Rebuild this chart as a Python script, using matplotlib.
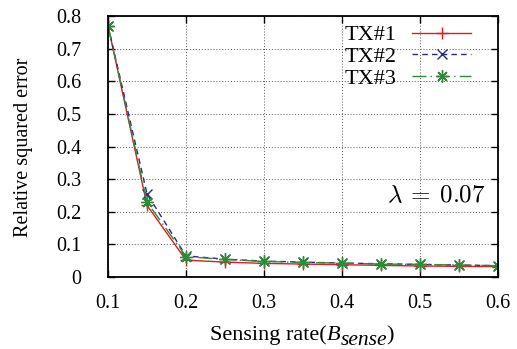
import matplotlib.pyplot as plt

plt.rcParams["font.family"] = ["Liberation Serif", "DejaVu Serif"]
plt.rcParams["mathtext.fontset"] = "stix"

# данные
rate = [0.1, 0.15, 0.2, 0.25, 0.3, 0.35, 0.4, 0.45, 0.5, 0.55, 0.6]
tx1 = [0.770, 0.220, 0.052, 0.046, 0.042, 0.040, 0.038, 0.036, 0.034, 0.033, 0.032]
tx2 = [0.770, 0.255, 0.065, 0.055, 0.049, 0.046, 0.043, 0.041, 0.039, 0.037, 0.035]
tx3 = [0.770, 0.230, 0.063, 0.054, 0.048, 0.045, 0.043, 0.040, 0.039, 0.037, 0.035]
labels = ["TX#1", "TX#2", "TX#3"]

fig = plt.figure(figsize=(5.17, 3.49), dpi=100)
ax = fig.add_axes([0.209, 0.206, 0.754, 0.748])

ax.plot(rate, tx1, color="#e41a1c", ls="-", lw=1.0, marker="+", ms=9, mew=1.0,
        label=labels[0])
ax.plot(rate, tx2, color="#2a2a80", ls=(0, (4, 3)), lw=1.0, marker="x", ms=7,
        mew=1.0, label=labels[1])
ax.plot(rate, tx3, color="#2e8b3a", ls=(0, (10, 3, 1, 3)), lw=1.0,
        marker=(8, 2, 0), ms=9, mew=1.0, label=labels[2])

ax.set_xlim(0.1, 0.6)
ax.set_ylim(0, 0.8)
ax.set_xticks([0.1, 0.2, 0.3, 0.4, 0.5, 0.6])
ax.set_yticks([i / 10 for i in range(9)])
ax.set_yticklabels(["0"] + [f"{i / 10:.1f}" for i in range(1, 9)])
ax.tick_params(direction="in", top=True, right=True, labelsize=14.5, length=5,
               width=1.0)
ax.tick_params("x", pad=12)
ax.tick_params("y", pad=19)
ax.grid(True, ls=(0, (1, 2)), color="#555555", lw=0.7)
for s in ax.spines.values():
    s.set_linewidth(1.3)

ax.set_ylabel("Relative squared error", fontsize=14.5)
ax.yaxis.set_label_coords(-0.192, 0.496)

# подпись оси x по кусочкам, чтобы индекс был крупнее
t1 = ax.text(0.2615, -0.241, "Sensing rate(", transform=ax.transAxes,
             ha="left", va="baseline", fontsize=16)
t2 = ax.annotate("B", xy=(1, 0), xycoords=t1, ha="left", va="bottom",
                 fontsize=16, style="italic")
t3 = ax.annotate("sense", xy=(1, 0), xycoords=t2, xytext=(0, -3.6),
                 textcoords="offset points", ha="left", va="bottom",
                 fontsize=15.5, style="italic")
ax.annotate(")", xy=(1, 0), xycoords=(t3, t1), ha="left", va="bottom",
            fontsize=16)

ax.text(0.968, 0.310, r"$\lambda\:=\:0.07$", transform=ax.transAxes,
        ha="right", va="center", fontsize=18, math_fontfamily="cm")

leg = ax.legend(loc="upper right", bbox_to_anchor=(0.931, 0.966),
                markerfirst=False, frameon=False, fontsize=16,
                handlelength=2.65, handletextpad=0.7, labelspacing=0.05,
                borderaxespad=0, borderpad=0)

fig.savefig("out.png", dpi=100)
